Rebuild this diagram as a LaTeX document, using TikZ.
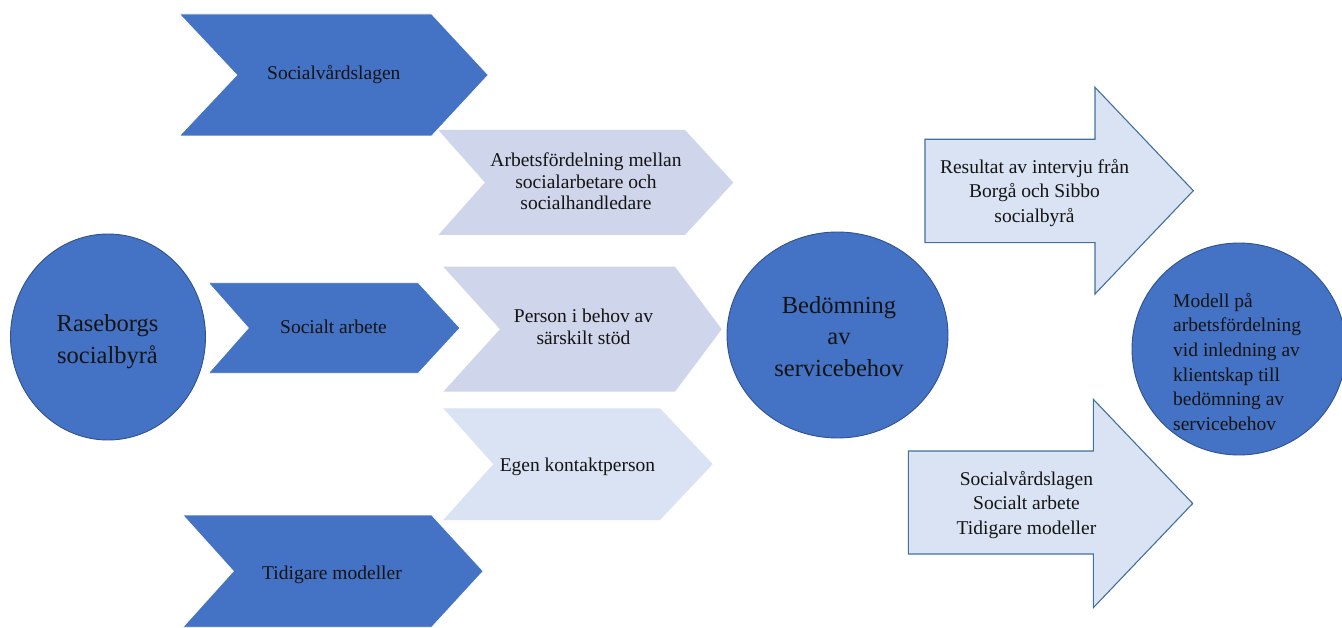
\documentclass[tikz,border=0pt]{standalone}
\usepackage{fontspec}
\setmainfont{Liberation Serif}
\newfontfamily\timesf{Liberation Serif}
\usetikzlibrary{shapes.geometric}
\definecolor{blueA}{HTML}{4472C4}
\definecolor{lav}{HTML}{CFD5EA}
\definecolor{lightb}{HTML}{DAE3F3}
\definecolor{edgeb}{HTML}{2F528F}
\definecolor{arrowedge}{HTML}{41719C}
\definecolor{txt}{HTML}{141414}
% #1 style, #2 left x, #3 tip x, #4 top y, #5 bottom y, #6 tip depth, #7 notch depth
\newcommand{\chevshape}[7]{%
  \path[#1] (#2,#4) -- ({#3-#6},#4) -- (#3,{(#4+#5)/2}) -- ({#3-#6},#5) -- (#2,#5) -- ({#2+#7},{(#4+#5)/2}) -- cycle;}
\tikzset{
  bluechev/.style={fill=blueA, draw=white, line width=0.8pt},
  lavchev/.style={fill=lav},
  lightchev/.style={fill=lightb},
  blockarrow/.style={fill=lightb, draw=arrowedge, line width=1.1pt, line join=miter},
  bigcircle/.style={ellipse, fill=blueA, draw=edgeb, line width=0.9pt, inner sep=0pt},
  chevtext/.style={inner sep=0pt, text=txt, align=center, font=\timesf\fontsize{19.5}{21.3}\selectfont},
  arrowtext/.style={inner sep=0pt, text=txt, align=center, font=\timesf\fontsize{19.5}{24.4}\selectfont},
  bigtext/.style={inner sep=0pt, text=txt, align=center, font=\timesf\fontsize{24.5}{31.8}\selectfont},
  modeltext/.style={inner sep=0pt, text=txt, align=left, font=\timesf\fontsize{19.5}{24.6}\selectfont},
}
\begin{document}
\begin{tikzpicture}[x=1pt, y=-1pt]
\useasboundingbox (0,0) rectangle (1342,628);
\fill[white] (0,0) rectangle (1342,628);

% light chevrons
\chevshape{lavchev}{438.3}{733.3}{130}{235}{48.3}{46.7}
\chevshape{lavchev}{443.3}{721.7}{266.7}{391.7}{46.7}{56.7}
\chevshape{lightchev}{443.3}{712.7}{408.3}{520}{52.7}{50}

% blue chevrons
\chevshape{bluechev}{179.3}{488.3}{14}{136}{56.6}{57.4}
\chevshape{bluechev}{208.3}{460}{282.7}{373.3}{41.7}{40}
\chevshape{bluechev}{182.7}{483.3}{515}{627.3}{51.6}{50.6}

% block arrows
\path[blockarrow] (925,139.3) -- (1095,139.3) -- (1095,87.3) -- (1193.3,190.7)
  -- (1095,294) -- (1095,242.7) -- (925,242.7) -- cycle;
\path[blockarrow] (908.3,451) -- (1093.3,451) -- (1093.3,399.3) -- (1192.7,503.5)
  -- (1093.3,607.7) -- (1093.3,554) -- (908.3,554) -- cycle;

% circles
\node[bigcircle, minimum width=195pt, minimum height=206pt] (rase) at (108,337) {};
\node[bigcircle, minimum width=221pt, minimum height=206pt] (bed) at (837.5,335) {};
\node[bigcircle, minimum width=214pt, minimum height=212pt] (modell) at (1239,349) {};

% texts
\node[bigtext] (raseT) at (107.5,341.8) {Raseborgs\\socialbyrå};
\node[bigtext] (bedT) at (839,336.5) {Bedömning\\av\\servicebehov};
\node[modeltext, anchor=west] (modellT) at (1173,361.9) {Modell på\\arbetsfördelning\\vid inledning av\\klientskap till\\bedömning av\\servicebehov};

\node[chevtext, anchor=base] (svl) at (333.8,80) {Socialvårdslagen};
\node[chevtext] (arb) at (586,181.4) {Arbetsfördelning mellan\\socialarbetare och\\socialhandledare};
\node[chevtext, anchor=base] (soc) at (333.5,333.3) {Socialt arbete};
\node[chevtext] (pers) at (583.5,326.7) {Person i behov av\\särskilt stöd};
\node[chevtext, anchor=base] (egen) at (577.5,471) {Egen kontaktperson};
\node[chevtext, anchor=base] (tid) at (332,579) {Tidigare modeller};

\node[arrowtext] (res) at (1034.5,193) {Resultat av intervju från\\Borgå och Sibbo\\socialbyrå};
\node[arrowtext] (lagar) at (1026.5,505) {Socialvårdslagen\\Socialt arbete\\Tidigare modeller};
\end{tikzpicture}
\end{document}
